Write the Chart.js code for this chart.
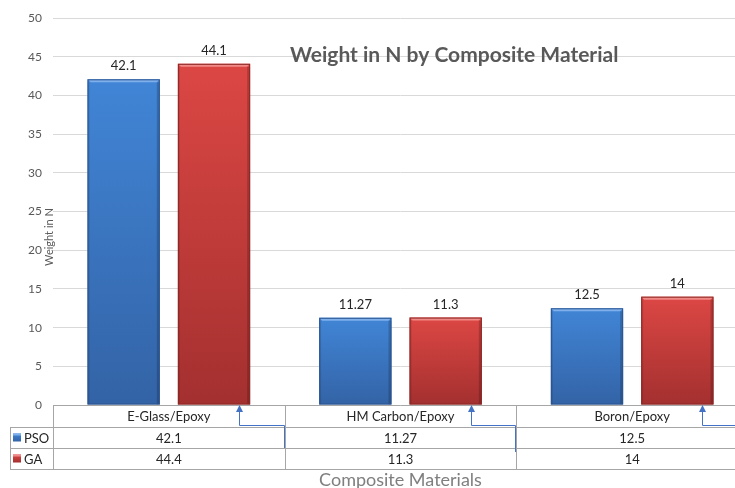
<!DOCTYPE html>
<html>
<head>
<meta charset="utf-8">
<script src="https://cdn.jsdelivr.net/npm/chart.js@4.4.1/dist/chart.umd.min.js"></script>
<style>
  html, body { margin: 0; padding: 0; background: #fff; overflow: hidden; }
  #wrap { position: relative; width: 748px; height: 488px; }
</style>
</head>
<body>
<div id="wrap"><canvas id="chart"></canvas></div>
<script>
// Weight (N) of the optimised structure for each composite material
const categories = ['E-Glass/Epoxy', 'HM Carbon/Epoxy', 'Boron/Epoxy'];
const seriesNames = ['PSO', 'GA'];
const psoWeights = [42.1, 11.27, 12.5];
const gaWeights = [44.1, 11.3, 14];
// values printed in the data table under the axis
const psoTableText = ['42.1', '11.27', '12.5'];
const gaTableText = ['44.4', '11.3', '14'];
const yTicks = [0, 5, 10, 15, 20, 25, 30, 35, 40, 45, 50];

const FONT = 'Lato, "Open Sans", sans-serif';
const palettes = {
  PSO: { top: '#4185d6', bottom: '#3363a6', edge: '#2c5590', light: '#7fb0ec' },
  GA:  { top: '#dc4744', bottom: '#a3302f', edge: '#8c2826', light: '#f08a86' }
};

function barGradient(ctx, pal, yTop, yBottom) {
  const g = ctx.createLinearGradient(0, yTop, 0, yBottom);
  g.addColorStop(0, pal.top);
  g.addColorStop(1, pal.bottom);
  return g;
}

function scriptedFill(name) {
  return (c) => {
    const chart = c.chart;
    const pal = palettes[name];
    const ys = chart.scales && chart.scales.y;
    if (!ys || c.raw === undefined) return pal.top;
    const yTop = ys.getPixelForValue(c.raw);
    const yBase = ys.getPixelForValue(0);
    if (!isFinite(yTop) || !isFinite(yBase) || yTop === yBase) return pal.top;
    return barGradient(chart.ctx, pal, yTop, yBase);
  };
}

const decor = {
  id: 'decor',
  afterDatasetsDraw(chart) {
    const ctx = chart.ctx;
    chart.data.datasets.forEach((ds, di) => {
      const pal = palettes[seriesNames[di]];
      const meta = chart.getDatasetMeta(di);
      meta.data.forEach((bar, i) => {
        const p = bar.getProps(['x', 'y', 'base', 'width'], true);
        const l = p.x - p.width / 2, r = p.x + p.width / 2;
        ctx.save();
        // bevelled top edge
        ctx.fillStyle = pal.light;
        ctx.beginPath();
        ctx.moveTo(l, p.y);
        ctx.lineTo(r, p.y);
        ctx.lineTo(r - 3, p.y + 3);
        ctx.lineTo(l + 3, p.y + 3);
        ctx.closePath();
        ctx.fill();
        // darker side edges
        ctx.fillStyle = 'rgba(0,0,0,0.18)';
        ctx.fillRect(r - 3, p.y + 3, 3, p.base - p.y - 3);
        ctx.fillStyle = 'rgba(0,0,0,0.10)';
        ctx.fillRect(l, p.y + 3, 2, p.base - p.y - 3);
        ctx.strokeStyle = pal.edge;
        ctx.lineWidth = 1;
        ctx.strokeRect(l + 0.5, p.y + 0.5, p.width - 1, p.base - p.y - 1);
        // value label
        ctx.fillStyle = '#262626';
        ctx.font = '13px ' + FONT;
        ctx.textAlign = 'center';
        ctx.textBaseline = 'alphabetic';
        ctx.fillText(String(ds.data[i]), p.x, p.y - 9);
        ctx.restore();
      });
    });
  },
  afterDraw(chart) {
    const ctx = chart.ctx;
    const area = chart.chartArea;
    const xs = chart.scales.x;
    ctx.save();

    // chart title inside the plot
    ctx.fillStyle = '#595959';
    ctx.font = 'bold 21px ' + FONT;
    ctx.textAlign = 'left';
    ctx.textBaseline = 'middle';
    ctx.fillText('Weight in N by Composite Material', 290, 55);

    // y-axis title
    ctx.save();
    ctx.translate(49, 237);
    ctx.rotate(-Math.PI / 2);
    ctx.font = '11px ' + FONT;
    ctx.textAlign = 'center';
    ctx.fillStyle = '#595959';
    ctx.fillText('Weight in N', 0, 0);
    ctx.restore();

    // data table
    const rowH = [22, 21, 21];
    const top = Math.round(area.bottom);
    const r1 = top + rowH[0], r2 = r1 + rowH[1], r3 = r2 + rowH[2];
    const tableLeft = 10;
    const half = (xs.getPixelForValue(1) - xs.getPixelForValue(0)) / 2;
    const bounds = [Math.round(xs.getPixelForValue(0) - half)];
    categories.forEach((_, i) => bounds.push(Math.round(xs.getPixelForValue(i) + half)));

    ctx.strokeStyle = '#a6a6a6';
    ctx.lineWidth = 1;
    ctx.beginPath();
    ctx.moveTo(bounds[0], top + 0.5); ctx.lineTo(bounds[3], top + 0.5);
    [r1, r2, r3].forEach(y => { ctx.moveTo(tableLeft, y + 0.5); ctx.lineTo(bounds[3], y + 0.5); });
    ctx.moveTo(tableLeft + 0.5, r1); ctx.lineTo(tableLeft + 0.5, r3);
    bounds.forEach(x => { ctx.moveTo(x + 0.5, top); ctx.lineTo(x + 0.5, r3); });
    ctx.stroke();

    ctx.fillStyle = '#262626';
    ctx.font = '13px ' + FONT;
    ctx.textAlign = 'center';
    ctx.textBaseline = 'middle';
    categories.forEach((c, i) => {
      const cx = xs.getPixelForValue(i);
      ctx.fillText(c, cx, (top + r1) / 2 + 1);
      ctx.fillText(psoTableText[i], cx, (r1 + r2) / 2 + 1);
      ctx.fillText(gaTableText[i], cx, (r2 + r3) / 2 + 1);
    });

    // legend keys in the first column
    [[r1, r2], [r2, r3]].forEach(([a, b], k) => {
      const pal = palettes[seriesNames[k]];
      const cy = (a + b) / 2;
      const g = barGradient(ctx, pal, cy - 4, cy + 4);
      ctx.fillStyle = g;
      ctx.fillRect(13, cy - 4, 8, 8);
      ctx.fillStyle = pal.light;
      ctx.fillRect(13, cy - 4, 8, 2);
      ctx.fillStyle = '#262626';
      ctx.textAlign = 'left';
      ctx.font = '13px ' + FONT;
      ctx.fillText(seriesNames[k], 24, cy + 1);
    });

    // connector arrows from the table up to the GA bars
    const gaMeta = chart.getDatasetMeta(1);
    const drops = [r2, r2 + 4, r2 + 4];
    ctx.strokeStyle = '#4472c4';
    ctx.fillStyle = '#4472c4';
    ctx.lineWidth = 1;
    gaMeta.data.forEach((bar, i) => {
      const ax = Math.round(bar.x + 25) + 0.5;
      const midY = top + 20.5;
      const rx = bounds[i + 1] - 0.5;
      ctx.beginPath();
      ctx.moveTo(ax, top + 5);
      ctx.lineTo(ax, midY);
      ctx.lineTo(rx, midY);
      ctx.lineTo(rx, drops[i]);
      ctx.stroke();
      ctx.beginPath();
      ctx.moveTo(ax, top);
      ctx.lineTo(ax - 3.5, top + 7);
      ctx.lineTo(ax + 3.5, top + 7);
      ctx.closePath();
      ctx.fill();
    });

    // x-axis title
    ctx.fillStyle = '#7f7f7f';
    ctx.font = '18px ' + FONT;
    ctx.textAlign = 'center';
    ctx.textBaseline = 'middle';
    ctx.fillText('Composite Materials', (area.left + area.right) / 2, 480);

    ctx.restore();
  }
};

new Chart(document.getElementById('chart'), {
  type: 'bar',
  data: {
    labels: categories,
    datasets: [
      { label: seriesNames[0], data: psoWeights, backgroundColor: scriptedFill('PSO'), borderWidth: 0,
        barPercentage: 0.8, categoryPercentage: 0.78 },
      { label: seriesNames[1], data: gaWeights, backgroundColor: scriptedFill('GA'), borderWidth: 0,
        barPercentage: 0.8, categoryPercentage: 0.78 }
    ]
  },
  options: {
    responsive: true,
    maintainAspectRatio: false,
    animation: false,
    devicePixelRatio: 1,
    layout: { padding: { top: 15, bottom: 83, left: 0, right: 0 } },
    plugins: {
      legend: { display: false },
      title: { display: false },
      tooltip: { enabled: false }
    },
    scales: {
      x: {
        ticks: { display: false },
        grid: { display: false, drawTicks: false },
        border: { display: false }
      },
      y: {
        min: 0,
        max: 50,
        afterBuildTicks: (s) => { s.ticks = yTicks.map(v => ({ value: v })); },
        afterFit: (s) => { s.width = 53; },
        ticks: { color: '#595959', font: { family: FONT, size: 12 }, padding: 11 },
        grid: { color: '#d9d9d9', drawTicks: false },
        border: { display: false }
      }
    }
  },
  plugins: [decor]
});
</script>
</body>
</html>
